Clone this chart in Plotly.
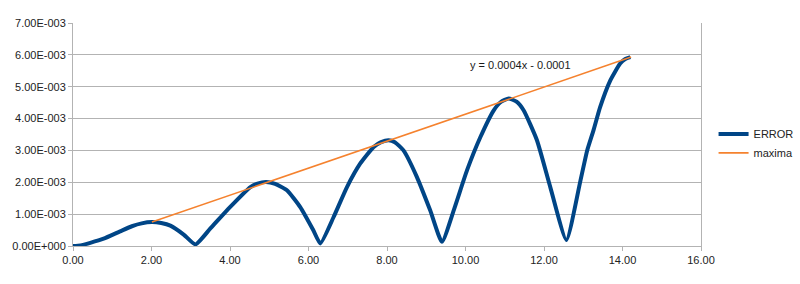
import plotly.graph_objects as go

# ERROR series (x, y)
err_x = [0.00, 0.19, 0.44, 0.78, 1.20, 1.50, 1.75, 2.01, 2.25, 2.48, 2.82, 3.12,
         3.50, 4.00, 4.52, 4.70, 4.92, 5.15, 5.45, 5.79, 6.12, 6.30,
         6.64, 6.98, 7.32, 7.66, 7.85, 8.04, 8.20, 8.42, 8.76, 9.10, 9.40,
         9.70, 10.04, 10.38, 10.72, 10.90, 11.10, 11.30, 11.48, 11.82, 12.16, 12.57,
         12.93, 13.10, 13.26, 13.43, 13.69, 13.94, 14.07, 14.20]
err_y = [0.00000, 0.00002, 0.00010, 0.00023, 0.00046, 0.00062, 0.00071, 0.00075, 0.00072, 0.00064, 0.00036, 0.00005,
         0.00055, 0.00122, 0.00185, 0.00196, 0.00201, 0.00195, 0.00175, 0.00122, 0.00050, 0.00008,
         0.00091, 0.00185, 0.00259, 0.00311, 0.00326, 0.00332, 0.00326, 0.00300, 0.00217, 0.00112, 0.00013,
         0.00112, 0.00238, 0.00342, 0.00426, 0.00452, 0.00463, 0.00453, 0.00426, 0.00332, 0.00185, 0.00019,
         0.00206, 0.00300, 0.00363, 0.00436, 0.00520, 0.00573, 0.00587, 0.00593]

# maxima series
max_x = [2.01, 4.95, 8.00, 11.08, 14.22]
max_y = [0.00075, 0.00200, 0.00329, 0.00460, 0.00593]

x_ticks = [0, 2, 4, 6, 8, 10, 12, 14, 16]
y_ticks = [0, 0.001, 0.002, 0.003, 0.004, 0.005, 0.006, 0.007]
y_labels = ["0.00E+000", "1.00E-003", "2.00E-003", "3.00E-003",
            "4.00E-003", "5.00E-003", "6.00E-003", "7.00E-003"]
trend_label = "y = 0.0004x - 0.0001"

fig = go.Figure()
fig.add_trace(go.Scatter(x=err_x, y=err_y, mode="lines", name="ERROR",
                         line=dict(color="#004586", width=4, shape="spline", smoothing=0.5)))
fig.add_trace(go.Scatter(x=max_x, y=max_y, mode="lines", name="maxima",
                         line=dict(color="#f5822e", width=1.6)))

fig.add_annotation(x=11.4, y=0.00567, text=trend_label, showarrow=False,
                   xanchor="center", yanchor="middle",
                   font=dict(size=11, color="#1a1a1a"))

fig.update_layout(
    width=800, height=284,
    margin=dict(l=73, r=99, t=23, b=38, autoexpand=False),
    paper_bgcolor="white", plot_bgcolor="white",
    font=dict(family="Liberation Sans, Arial, sans-serif", size=11, color="#222"),
    showlegend=True,
    legend=dict(x=1.02, y=0.46, xanchor="left", yanchor="middle",
                bgcolor="rgba(0,0,0,0)", font=dict(size=11, color="#222"),
                itemwidth=30, tracegroupgap=0),
)
fig.update_xaxes(range=[0, 16], tickvals=x_ticks, tickformat=".2f",
                 showgrid=False, zeroline=False,
                 showline=True, linecolor="#b3b3b3", linewidth=1,
                 ticks="outside", ticklen=4, tickcolor="#b3b3b3")
fig.update_yaxes(range=[0, 0.007], tickvals=y_ticks, ticktext=y_labels,
                 showgrid=True, gridcolor="#b3b3b3", gridwidth=1, zeroline=False,
                 showline=True, linecolor="#b3b3b3", linewidth=1, mirror=True,
                 ticks="outside", ticklen=4, tickcolor="#b3b3b3")

fig.write_html("out.html")
